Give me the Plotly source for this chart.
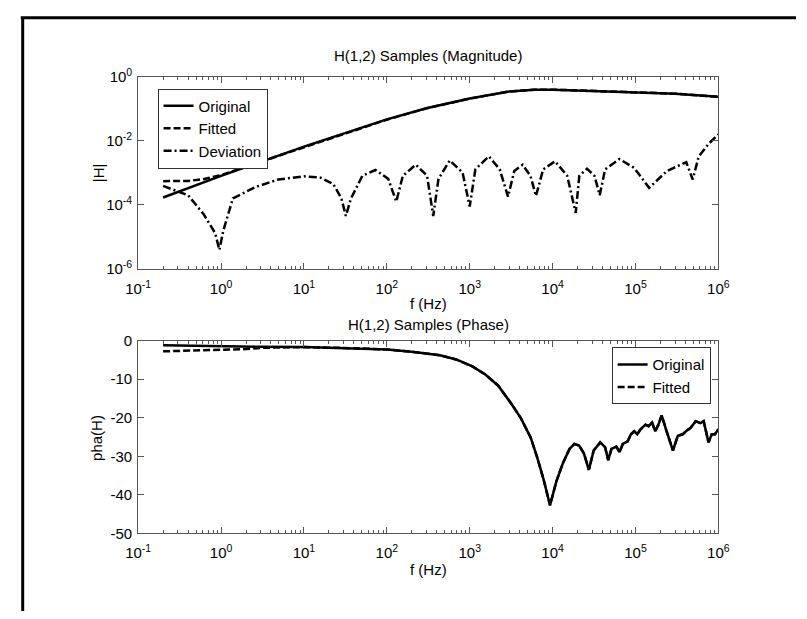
import plotly.graph_objects as go

# ---------------- data ----------------
# Magnitude, original
f_mag_orig = [0.2, 1, 10, 100, 300, 1000, 3000, 6000, 1e4, 3e4, 1e5, 3e5, 1e6]
mag_orig = [1.7e-4, 8.1e-4, 6.6e-3, 0.047, 0.105, 0.21, 0.35, 0.40, 0.40, 0.36, 0.33, 0.30, 0.24]

# Magnitude, fitted
f_mag_fit = [0.2, 0.4, 0.6, 0.9, 1, 10, 100, 300, 1000, 3000, 6000, 1e4, 3e4, 1e5, 3e5, 1e6]
mag_fit = [5.5e-4, 5.6e-4, 6.3e-4, 7.9e-4, 8.5e-4, 6.3e-3, 0.046, 0.104, 0.21, 0.35, 0.40, 0.40, 0.36, 0.33, 0.30, 0.24]

# Magnitude, deviation
f_dev = [0.2, 0.4, 0.62, 0.85, 0.955, 1.06, 1.39, 2.6, 4.9, 10, 15.8, 22.6, 28.3, 32, 37, 50.7, 73,
         104, 130, 156, 224, 306, 363, 420, 575, 820, 1000, 1170, 1700, 2300, 2900, 3450, 4350,
         5400, 6300, 7700, 1.07e4, 1.5e4, 1.9e4, 2.1e4, 2.6e4, 3.2e4, 3.7e4, 4.3e4, 6.4e4, 9.6e4,
         1.46e5, 2.4e5, 4.1e5, 4.9e5, 5.8e5, 7.7e5, 1e6]
dev = [3.9e-4, 2.0e-4, 5.0e-5, 1.3e-5, 3.9e-6, 1.5e-5, 1.6e-4, 3.6e-4, 6.2e-4, 7.8e-4, 7.1e-4, 4.5e-4,
       1.6e-4, 4.5e-5, 1.6e-4, 8.1e-4, 1.23e-3,
       6.5e-4, 1.26e-4, 8.1e-4, 1.8e-3, 8.1e-4, 4.5e-5, 6.5e-4, 2.45e-3, 1.02e-3, 8.9e-5, 1.29e-3,
       3.3e-3, 1.29e-3, 1.8e-4, 1.15e-3, 1.8e-3,
       8.1e-4, 1.9e-4, 1.29e-3, 2.3e-3, 8.1e-4, 5.6e-5, 8.1e-4, 1.35e-3, 8.1e-4, 2.0e-4, 1.29e-3,
       2.7e-3, 1.45e-3,
       3.4e-4, 1.15e-3, 2.15e-3, 6.2e-4, 3.3e-3, 8.3e-3, 1.6e-2]

# Phase, original
f_ph_orig = [0.2, 1, 3, 10, 30, 100, 200, 300, 438, 687, 1077, 1543, 2208, 3163, 4140, 5430, 6500,
             7780, 9310, 1.11e4, 1.33e4, 1.6e4, 1.83e4, 2.09e4, 2.39e4, 2.74e4, 3.13e4, 3.75e4,
             4.29e4, 4.69e4, 5.13e4, 5.87e4, 6.42e4, 7.03e4, 8.05e4, 8.81e4, 9.64e4, 1.05e5,
             1.15e5, 1.32e5, 1.44e5, 1.58e5, 1.73e5, 1.89e5, 2.07e5, 2.37e5, 2.83e5, 3.24e5,
             3.71e5, 4.06e5, 4.64e5, 5.31e5, 6.08e5, 6.65e5, 7.61e5, 8.32e5, 9.1e5, 1e6]
ph_orig = [-1.2, -1.5, -1.6, -1.7, -1.9, -2.3, -2.9, -3.3, -3.8, -4.9, -6.7, -8.8, -11.7, -16.3,
           -20.1, -25.1, -30.2, -36.0, -42.7, -36.5, -31.8, -28.1, -26.8, -27.2, -29.3, -33.5,
           -28.5, -26.4, -27.6, -31.0, -28.1, -27.5, -28.9, -26.8, -26.1, -24.3, -23.5, -24.3,
           -23.0, -21.8, -22.2, -21.2, -23.5, -21.8, -19.4, -23.5, -28.5, -24.7, -24.3, -23.5,
           -22.6, -20.9, -21.4, -20.9, -26.4, -24.3, -24.3, -23.0]

# Phase, fitted
f_ph_fit = [0.2, 0.5, 0.9, 2.0, 3.4, 5, 10] + f_ph_orig[4:]
ph_fit = [-2.8, -2.6, -2.3, -2.2, -1.85, -1.75, -1.7] + ph_orig[4:]

x_tickvals = [0.1, 1, 10, 100, 1e3, 1e4, 1e5, 1e6]
x_ticktext = ["10<sup>-1</sup>", "10<sup>0</sup>", "10<sup>1</sup>", "10<sup>2</sup>",
              "10<sup>3</sup>", "10<sup>4</sup>", "10<sup>5</sup>", "10<sup>6</sup>"]
y_mag_tickvals = [1e-6, 1e-4, 1e-2, 1]
y_mag_ticktext = ["10<sup>-6</sup>", "10<sup>-4</sup>", "10<sup>-2</sup>", "10<sup>0</sup>"]
y_ph_tickvals = [-50, -40, -30, -20, -10, 0]
y_ph_ticktext = ["-50", "-40", "-30", "-20", "-10", "0"]

# ---------------- figure ----------------
W, H = 807, 619
FONT = "Liberation Sans, Arial, Helvetica, sans-serif"
AX = "#555555"
DASH = "7px,3px"
DASHDOT = "8px,3px,2px,3px"

minor_vals = [k * 10 ** d for d in range(-1, 6) for k in range(2, 10)]

def px_x(p):
    return p / W

def px_y(p):
    return 1 - p / H

fig = go.Figure()

fig.add_trace(go.Scatter(x=f_mag_orig, y=mag_orig, mode="lines", name="Original",
                         line=dict(color="black", width=2.5), xaxis="x", yaxis="y", legend="legend"))
fig.add_trace(go.Scatter(x=f_mag_fit, y=mag_fit, mode="lines", name="Fitted",
                         line=dict(color="black", width=2.5, dash=DASH), xaxis="x", yaxis="y", legend="legend"))
fig.add_trace(go.Scatter(x=f_dev, y=dev, mode="lines", name="Deviation",
                         line=dict(color="black", width=2.5, dash=DASHDOT), xaxis="x", yaxis="y", legend="legend"))

fig.add_trace(go.Scatter(x=f_ph_orig, y=ph_orig, mode="lines", name="Original",
                         line=dict(color="black", width=2.5), xaxis="x2", yaxis="y2", legend="legend2"))
fig.add_trace(go.Scatter(x=f_ph_fit, y=ph_fit, mode="lines", name="Fitted",
                         line=dict(color="black", width=2.5, dash=DASH), xaxis="x2", yaxis="y2", legend="legend2"))

xdom = [px_x(129), px_x(727)]

def xaxis_common(anchor):
    return dict(type="log", range=[-1, 6], domain=xdom, anchor=anchor,
                tickmode="array", tickvals=x_tickvals, ticktext=x_ticktext,
                ticks="inside", ticklen=6, tickcolor=AX, tickwidth=1,
                minor=dict(tickmode="array", tickvals=minor_vals, ticks="inside", ticklen=3,
                           tickcolor=AX, showgrid=False),
                showline=True, linecolor=AX, linewidth=1, mirror="ticks",
                showgrid=False, zeroline=False, ticklabelstandoff=6,
                tickfont=dict(family=FONT, size=15, color="black"))

fig.update_layout(
    width=W, height=H,
    margin=dict(l=0, r=0, t=0, b=0),
    paper_bgcolor="white", plot_bgcolor="white",
    font=dict(family=FONT, size=15, color="black"),
    xaxis=xaxis_common("y"),
    xaxis2=xaxis_common("y2"),
    yaxis=dict(type="log", range=[-6, 0], domain=[px_y(266), px_y(68)], anchor="x",
               tickmode="array", tickvals=y_mag_tickvals, ticktext=y_mag_ticktext,
               ticks="inside", ticklen=6, tickcolor=AX,
               showline=True, linecolor=AX, linewidth=1, mirror="ticks",
               showgrid=False, zeroline=False, ticklabelstandoff=2,
               tickfont=dict(family=FONT, size=15, color="black")),
    yaxis2=dict(range=[-50, 0], domain=[px_y(539), px_y(340)], anchor="x2",
                tickmode="array", tickvals=y_ph_tickvals, ticktext=y_ph_ticktext,
                ticks="inside", ticklen=6, tickcolor=AX,
                showline=True, linecolor=AX, linewidth=1, mirror="ticks",
                showgrid=False, zeroline=False, ticklabelstandoff=2,
                tickfont=dict(family=FONT, size=15, color="black")),
    legend=dict(x=px_x(149), y=px_y(80), xanchor="left", yanchor="top",
                bgcolor="white", bordercolor="#333333", borderwidth=1,
                font=dict(family=FONT, size=15, color="black"),
                tracegroupgap=0, itemwidth=30),
    legend2=dict(x=px_x(719), y=px_y(347), xanchor="right", yanchor="top",
                 bgcolor="white", bordercolor="#333333", borderwidth=1,
                 font=dict(family=FONT, size=15, color="black"),
                 tracegroupgap=0, itemwidth=30),
    showlegend=True,
)

annotations = [
    dict(text="H(1,2) Samples (Magnitude)", x=px_x(428), y=px_y(46)),
    dict(text="f (Hz)", x=px_x(428), y=px_y(302)),
    dict(text="H(1,2) Samples (Phase)", x=px_x(428), y=px_y(323)),
    dict(text="f (Hz)", x=px_x(428), y=px_y(576)),
    dict(text="|H|", x=px_x(88), y=px_y(167), textangle=-90),
    dict(text="pha(H)", x=px_x(86), y=px_y(440), textangle=-90),
]
for a in annotations:
    fig.add_annotation(xref="paper", yref="paper", showarrow=False,
                       xanchor="center", yanchor="middle",
                       font=dict(family=FONT, size=15, color="black"), **a)

# page border (top and left)
fig.add_shape(type="line", xref="paper", yref="paper", x0=px_x(8), x1=1, y0=px_y(7), y1=px_y(7),
              line=dict(color="black", width=3))
fig.add_shape(type="line", xref="paper", yref="paper", x0=px_x(10), x1=px_x(10), y0=px_y(7), y1=0,
              line=dict(color="black", width=3))

fig.write_html("out.html")
